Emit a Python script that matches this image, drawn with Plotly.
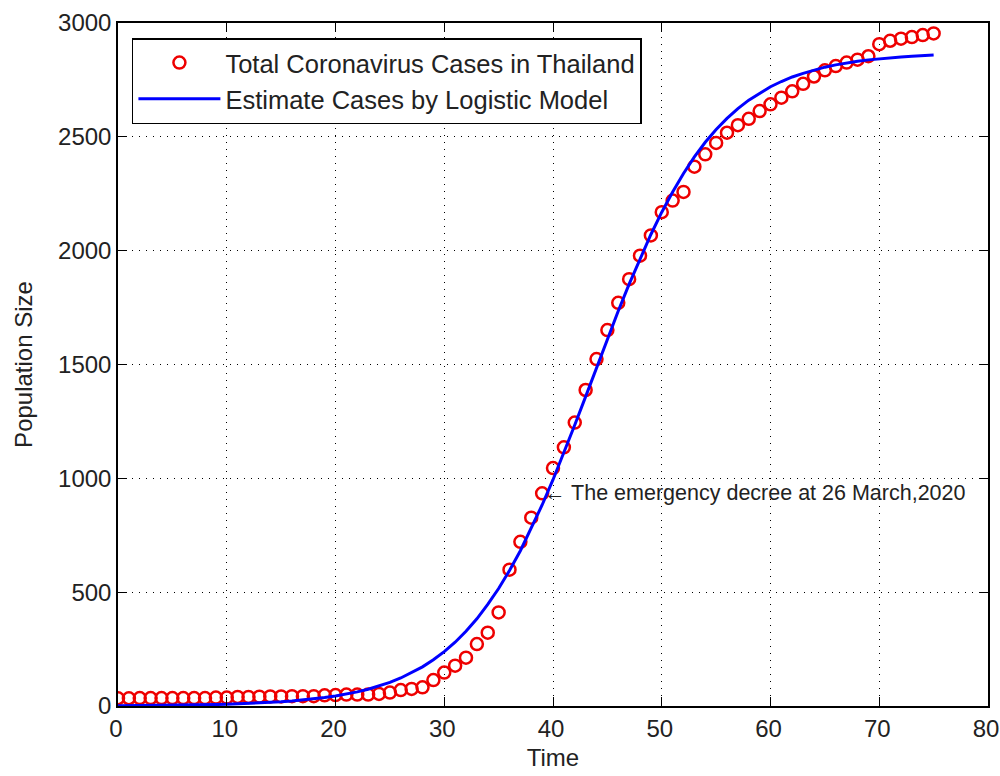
import plotly.graph_objects as go

# Observed data (days since start)
days = list(range(0, 76))
cases = [34, 34, 35, 35, 35, 35, 35, 35, 35, 37,
         37, 40, 40, 41, 42, 42, 43, 43, 43, 47,
         48, 50, 50, 50, 53, 59, 70, 75, 82, 114,
         147, 177, 212, 272, 322, 411, 599, 721, 827, 934,
         1045, 1136, 1245, 1388, 1524, 1651, 1771, 1875, 1978, 2067,
         2169, 2220, 2258, 2369, 2423, 2473, 2518, 2551, 2579, 2613,
         2643, 2672, 2700, 2733, 2765, 2792, 2811, 2826, 2839, 2854,
         2907, 2922, 2931, 2938, 2947, 2954]

# Logistic model estimate
model_days = list(range(0, 76))
model_cases = [1.3, 1.6, 1.9, 2.2, 2.6, 3.2, 3.8, 4.5, 5.4, 6.4,
               7.6, 9.1, 10.8, 12.9, 15.4, 18.3, 21.8, 26.0, 31.0, 36.9,
               43.9, 52.2, 62.1, 73.8, 87.5, 104, 123, 146, 172, 203,
               239, 280, 328, 383, 446, 516, 595, 682, 779, 883,
               994, 1112, 1234, 1359, 1486, 1611, 1735, 1853, 1966, 2071,
               2169, 2258, 2339, 2412, 2476, 2532, 2581, 2624, 2661, 2692,
               2720, 2743, 2763, 2779, 2794, 2806, 2816, 2825, 2832, 2838,
               2843, 2847, 2851, 2854, 2857, 2859]

x_ticks = [0, 10, 20, 30, 40, 50, 60, 70, 80]
y_ticks = [0, 500, 1000, 1500, 2000, 2500, 3000]

annot_x = 39
annot_y = 934
annot_text = "\u2190 The emergency decree at 26 March,2020"

FONT = "Liberation Sans, Arial, sans-serif"

fig = go.Figure()
fig.add_trace(go.Scatter(
    x=days, y=cases, mode="markers",
    name="Total Coronavirus Cases in Thailand",
    marker=dict(symbol="circle-open", size=12, color="#ee0000",
                line=dict(width=2.5, color="#ee0000")),
))
fig.add_trace(go.Scatter(
    x=model_days, y=model_cases, mode="lines",
    name="Estimate Cases by Logistic Model",
    line=dict(color="#0000ff", width=3),
))

axis_common = dict(
    showline=True, linecolor="black", linewidth=1.5, mirror="ticks",
    ticks="inside", ticklen=9, tickcolor="black", tickwidth=1,
    showgrid=True, gridcolor="black", gridwidth=1, griddash="1px,6px",
    zeroline=False, automargin=False, ticklabeloverflow="allow",
    tickfont=dict(family=FONT, size=24, color="#222222"),
)

fig.update_layout(
    width=1000, height=776,
    margin=dict(l=118, r=12, t=23, b=70),
    paper_bgcolor="white", plot_bgcolor="white",
    font=dict(family=FONT, color="#222222"),
    xaxis=dict(range=[0, 80], tickvals=x_ticks, ticklabelshift=-2, **axis_common,
               title=dict(text="Time", font=dict(family=FONT, size=24), standoff=9)),
    yaxis=dict(range=[0, 3000], tickvals=y_ticks, **axis_common,
               title=dict(text="Population Size", font=dict(family=FONT, size=24), standoff=19)),
    legend=dict(x=0.016, y=0.978, xanchor="left", yanchor="top",
                bgcolor="white", bordercolor="black", borderwidth=1.5,
                font=dict(family=FONT, size=25.5, color="#222222"),
                itemwidth=82, tracegroupgap=0),
    showlegend=True,
)

fig.add_annotation(x=annot_x, y=annot_y, xref="x", yref="y", text=annot_text,
                   showarrow=False, xanchor="left", yanchor="middle",
                   xshift=0,
                   font=dict(family=FONT, size=21.5, color="#222222"))

# Remove the default page margin so the 1000x776 figure fills the window exactly
fig.write_html("out.html",
               config={"displayModeBar": False},
               post_script="document.body.style.margin='0';document.body.style.overflow='hidden';")
